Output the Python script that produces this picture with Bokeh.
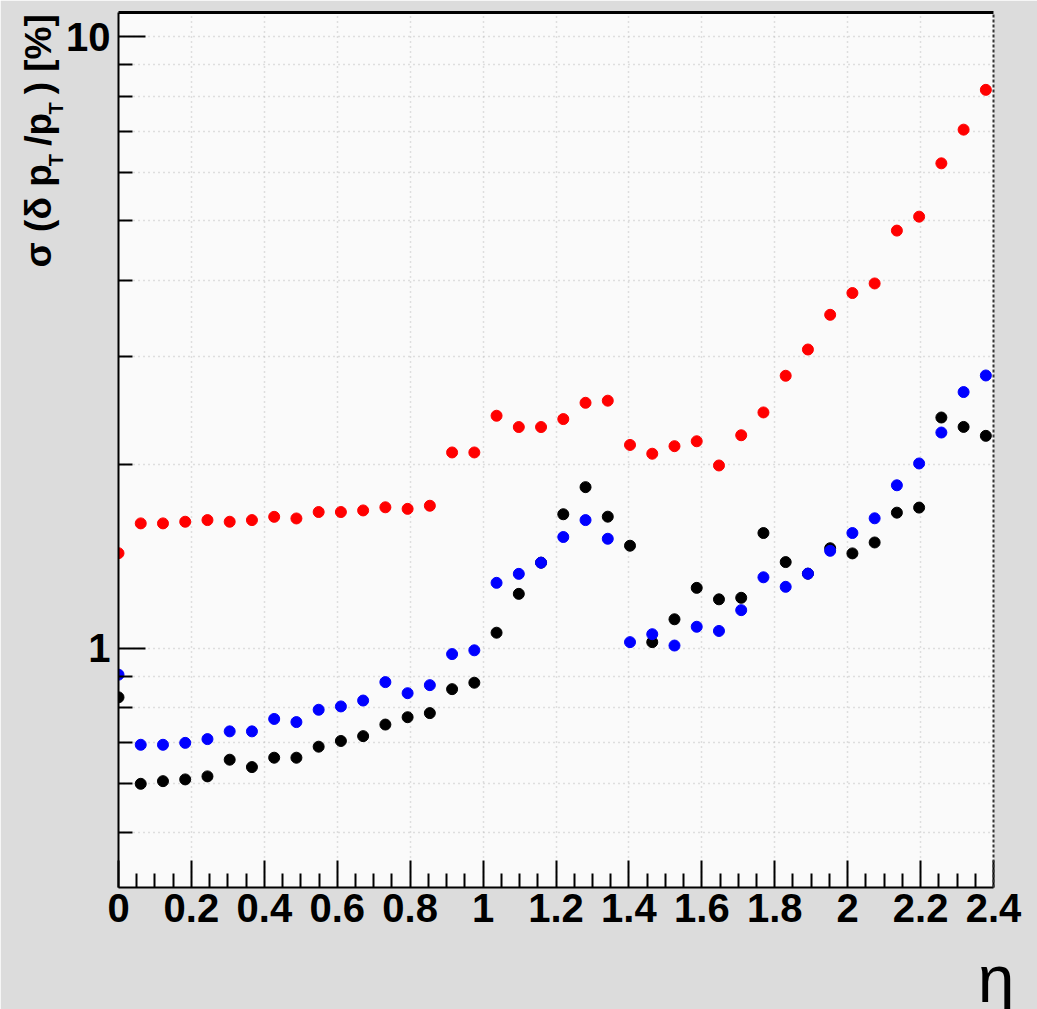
from bokeh.plotting import figure
from bokeh.models import (Range1d, FixedTicker, Label, LinearAxis, LogAxis)
from bokeh.embed import file_html
from bokeh.resources import INLINE

# pseudorapidity bins
eta = [0.000, 0.061, 0.122, 0.183, 0.244, 0.305, 0.366, 0.427, 0.488, 0.549,
       0.610, 0.671, 0.732, 0.793, 0.854, 0.915, 0.976, 1.037, 1.098, 1.159,
       1.220, 1.281, 1.342, 1.403, 1.464, 1.525, 1.586, 1.647, 1.708, 1.769,
       1.830, 1.891, 1.952, 2.013, 2.074, 2.135, 2.196, 2.257, 2.318, 2.379]

# relative pT resolution [%]
res_red = [1.43, 1.60, 1.60, 1.61, 1.62, 1.61, 1.62, 1.64, 1.63, 1.67,
           1.67, 1.68, 1.70, 1.69, 1.71, 2.09, 2.09, 2.40, 2.30, 2.30,
           2.37, 2.52, 2.54, 2.15, 2.08, 2.14, 2.18, 1.99, 2.23, 2.43,
           2.79, 3.08, 3.51, 3.81, 3.95, 4.82, 5.08, 6.21, 7.05, 8.19]

res_black = [0.831, 0.600, 0.606, 0.610, 0.617, 0.657, 0.639, 0.662, 0.662, 0.690,
             0.705, 0.718, 0.750, 0.771, 0.783, 0.857, 0.878, 1.060, 1.227, 1.380,
             1.656, 1.834, 1.641, 1.471, 1.023, 1.115, 1.255, 1.202, 1.209, 1.543,
             1.383, 1.324, 1.457, 1.429, 1.489, 1.666, 1.698, 2.384, 2.301, 2.225]

res_blue = [0.905, 0.695, 0.695, 0.700, 0.710, 0.731, 0.731, 0.766, 0.757, 0.793,
            0.803, 0.821, 0.880, 0.844, 0.870, 0.978, 0.992, 1.279, 1.323, 1.380,
            1.520, 1.620, 1.510, 1.023, 1.054, 1.010, 1.084, 1.067, 1.154, 1.306,
            1.260, 1.324, 1.443, 1.543, 1.631, 1.847, 2.005, 2.253, 2.624, 2.793]

x_ticks = [0, 0.2, 0.4, 0.6, 0.8, 1, 1.2, 1.4, 1.6, 1.8, 2, 2.2, 2.4]
x_tick_labels = ["0", "0.2", "0.4", "0.6", "0.8", "1", "1.2", "1.4", "1.6",
                 "1.8", "2", "2.2", "2.4"]
y_ticks = [1, 10]
y_tick_labels = ["1", "10"]
y_minor = [0.5, 0.6, 0.7, 0.8, 0.9, 2, 3, 4, 5, 6, 7, 8, 9]

FONT = "Liberation Sans"

p = figure(width=1037, height=1009, frame_width=875, frame_height=875,
           y_axis_type="log", x_range=Range1d(0, 2.4),
           y_range=Range1d(0.406, 10.96),
           output_backend="svg", toolbar_location=None,
           min_border_left=118, min_border_right=44,
           min_border_top=12, min_border_bottom=122)

p.background_fill_color = "#fafafa"
p.border_fill_color = "#dcdcdc"
p.outline_line_color = None

# axes
x_minor = [round(0.05 * k, 2) for k in range(49) if k % 4 != 0]
p.xaxis.ticker = FixedTicker(ticks=x_ticks, minor_ticks=x_minor)
p.xaxis.major_label_overrides = dict(zip(x_ticks, x_tick_labels))
p.yaxis.ticker = FixedTicker(ticks=y_ticks, minor_ticks=y_minor)
p.yaxis.major_label_overrides = dict(zip(y_ticks, y_tick_labels))

for ax in (p.xaxis[0], p.yaxis[0]):
    ax.axis_line_width = 2
    ax.axis_line_color = "black"
    ax.major_tick_in = 27
    ax.major_tick_out = 0
    ax.minor_tick_in = 14
    ax.minor_tick_out = 0
    ax.major_tick_line_width = 2
    ax.minor_tick_line_width = 2
    ax.major_tick_line_color = "black"
    ax.minor_tick_line_color = "black"
    ax.major_label_text_font = FONT
    ax.major_label_text_font_style = "bold"
    ax.major_label_text_font_size = "40px"
    ax.major_label_text_color = "black"
p.xaxis.major_label_standoff = 6
p.yaxis.major_label_standoff = 8

# dotted grid
p.xgrid.ticker = p.xaxis[0].ticker
p.ygrid.ticker = p.yaxis[0].ticker
for g in (p.xgrid[0], p.ygrid[0]):
    g.grid_line_color = "#c2c2c2"
    g.grid_line_dash = "1 4"
    g.grid_line_width = 1.5
p.ygrid.minor_grid_line_color = "#c2c2c2"
p.ygrid.minor_grid_line_dash = "1 4"
p.ygrid.minor_grid_line_width = 1.5

# frame: heavy top edge, dashed right edge
top = LinearAxis(ticker=FixedTicker(ticks=[]), axis_line_width=3,
                 axis_line_color="black", major_label_text_font_size="0px",
                 major_label_standoff=0,
                 major_tick_line_color=None, minor_tick_line_color=None)
p.add_layout(top, "above")
right = LogAxis(ticker=FixedTicker(ticks=[]), axis_line_width=2,
                axis_line_color="#333333", axis_line_dash="3 2",
                major_label_text_font_size="0px", major_label_standoff=0,
                major_tick_line_color=None, minor_tick_line_color=None)
p.add_layout(right, "right")

# points
p.scatter(eta, res_red, size=11, color="#ff0000")
p.scatter(eta, res_black, size=11, color="#000000")
p.scatter(eta, res_blue, size=11, color="#0000ff")

# y title: sigma(delta pT/pT) [%]; the two T's are lowered subscripts
def title_text(text, x, y, size, side):
    p.add_layout(Label(x=x, y=y, text=text, angle=90, angle_units="deg",
                       text_font=FONT, text_font_style="bold",
                       text_font_size=size, text_color="black",
                       text_align="left", text_baseline="alphabetic"), side)

title_text("σ (δ p\u2002/p\u2002) [%]", -0.2194, 4.195, "37px", "left")
title_text("T", -0.1728, 6.14, "20px", "below")
title_text("T", -0.1728, 7.466, "20px", "below")

# x title
p.add_layout(Label(x=2.357, y=0.2881, text="η", text_font=FONT,
                   text_font_size="66px", text_color="black",
                   text_align="left", text_baseline="alphabetic"), "right")

open("out.html", "w").write(file_html(p, INLINE))
